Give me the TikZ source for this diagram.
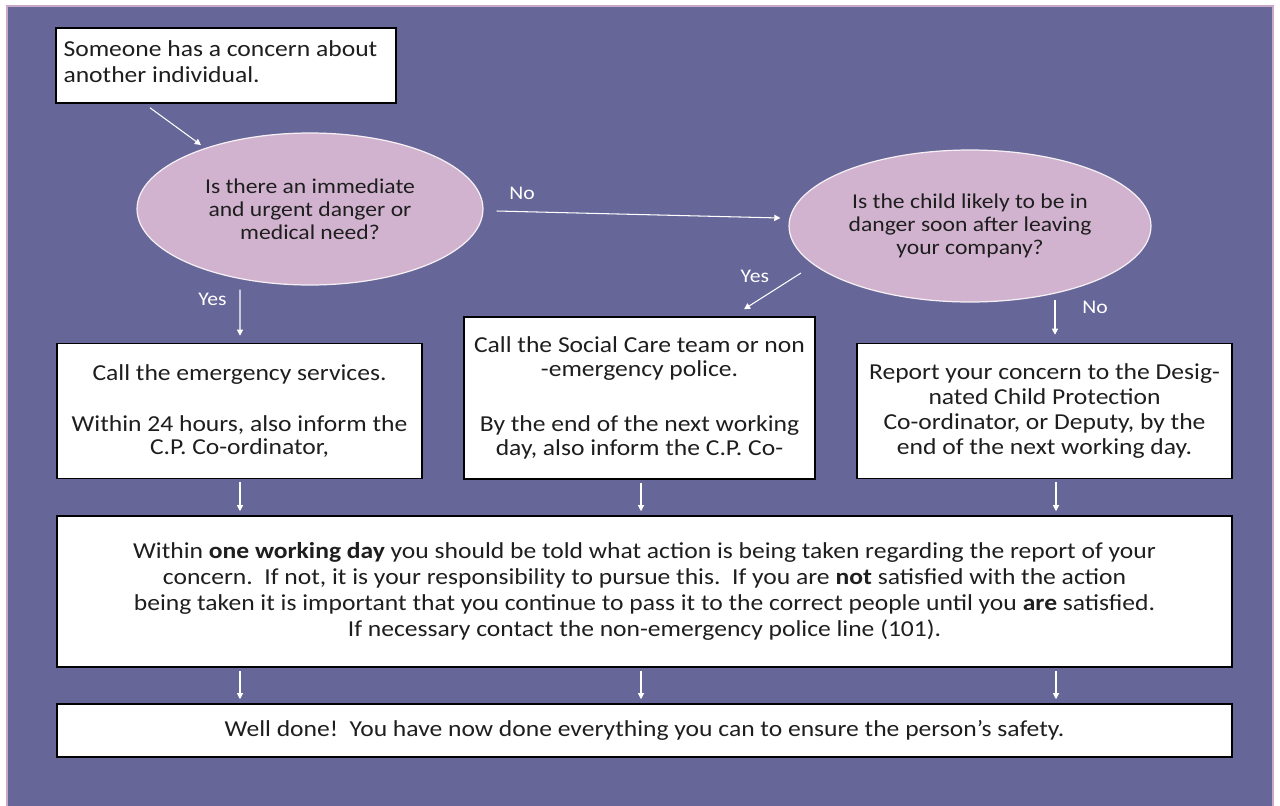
\documentclass[tikz,border=0pt]{standalone}
\usepackage{fontspec}
\setmainfont{Carlito}[FakeStretch=1.12]
\usetikzlibrary{arrows.meta, positioning, shapes.geometric, calc}
\definecolor{bgpurple}{RGB}{102,102,153}
\definecolor{edgelilac}{RGB}{200,170,200}
\definecolor{qpink}{RGB}{209,179,207}
\definecolor{inktext}{RGB}{30,30,30}

\begin{document}
\begin{tikzpicture}[x=0.02cm, y=-0.02cm,
  box/.style={draw=black, line width=0.9pt, fill=white, text=inktext,
    font=\fontsize{13}{13}\selectfont, align=center, inner sep=2pt},
  question/.style={ellipse, draw=white!80!qpink, line width=0.7pt, fill=qpink,
    text=inktext, font=\fontsize{12}{13}\selectfont, align=center, inner sep=0pt},
  flow/.style={-{Triangle[length=3.5pt,width=3.5pt]}, white, line width=0.6pt},
  answer/.style={text=white, font=\fontsize{11}{12}\selectfont}]

  % Background
  \useasboundingbox (0,0) rectangle (1280,805);
  \fill[white] (0,0) rectangle (1280,805);
  \draw[edgelilac, line width=1.2pt, fill=bgpurple] (7,6) rectangle (1273,808);

  % Starting point
  \node[box, minimum width=6.8cm, minimum height=1.5cm, align=flush left, text width=6.5cm,
    font=\fontsize{13}{14.7}\selectfont] (start) at (226,65.5)
    {Someone has a concern about\\another individual.\\[-10pt]\mbox{}};

  % Questions
  \node[question, minimum width=6.92cm, minimum height=3.04cm] (danger) at (310,209)
    {Is there an immediate\\and urgent danger or\\medical need?};
  \node[question, minimum width=7.24cm, minimum height=3.04cm] (later) at (970,226)
    {Is the child likely to be in\\danger soon after leaving\\your company?};

  % Actions
  \node[box, minimum width=7.3cm, minimum height=2.7cm] (emergency) at (239.5,411)
    {Call the emergency services.\\[16.5pt]Within 24 hours, also inform the\\C.P. Co-ordinator,};
  \node[box, minimum width=7.02cm, minimum height=3.24cm, font=\fontsize{13}{14}\selectfont]
    (social) at (639.5,398)
    {Call the Social Care team or non\\-emergency police.\\[17pt]By the end of the next working\\day, also inform the C.P. Co-};
  \node[box, minimum width=7.5cm, minimum height=2.7cm, font=\fontsize{13}{14.2}\selectfont]
    (report) at (1044.5,411)
    {Report your concern to the Desig-\\nated Child Protection\\Co-ordinator, or Deputy, by the\\end of the next working day.};

  % Follow-up and end
  \node[box, minimum width=23.5cm, minimum height=3.02cm, font=\fontsize{13}{14.7}\selectfont]
    (followup) at (644.5,591.5)
    {Within \textbf{one working day} you should be told what action is being taken regarding the report of your\\
     concern.\ \ If not, it is your responsibility to pursue this.\ \ If you are \textbf{not} satisfied with the action\\
     being taken it is important that you continue to pass it to the correct people until you \textbf{are} satisfied.\\
     If necessary contact the non-emergency police line (101).};
  \node[box, minimum width=23.5cm, minimum height=1.06cm, font=\fontsize{13}{14}\selectfont]
    (welldone) at (644.5,730.5)
    {Well done!\ \ You have now done everything you can to ensure the person’s safety.};

  % Connectors
  \draw[flow] ($(start.south)+(-76,4)$) -- ($(danger.center)+(-109,-64)$);
  \draw[flow] ($(danger.east)+(13,2)$) -- ($(later.west)+(-8,-8)$)
    node[answer, pos=0.09, above=3pt] {No};
  \draw[flow] ($(danger.south)+(-70,4)$) -- ($(emergency.north)+(0.5,-7)$)
    node[answer, pos=0.22, left=4pt] {Yes};
  \draw[flow] ($(later.center)+(-169,47)$) -- ($(social.north)+(104.5,-7)$)
    node[answer, pos=0.45, above left=0pt] {Yes};
  \draw[flow] ($(report.north)+(10.5,-43)$) -- ($(report.north)+(10.5,-8)$)
    node[answer, pos=0.23, right=12pt] {No};

  \foreach \src/\dx in {emergency/0.5, social/1.5, report/11.5} {
    \draw[flow] ($(\src.south)+(\dx,3)$) -- ($(\src.south |- followup.north)+(\dx,-4)$);
    \draw[flow] ($(\src.south |- followup.south)+(\dx,3)$) -- ($(\src.south |- welldone.north)+(\dx,-4)$);
  }

\end{tikzpicture}
\end{document}
